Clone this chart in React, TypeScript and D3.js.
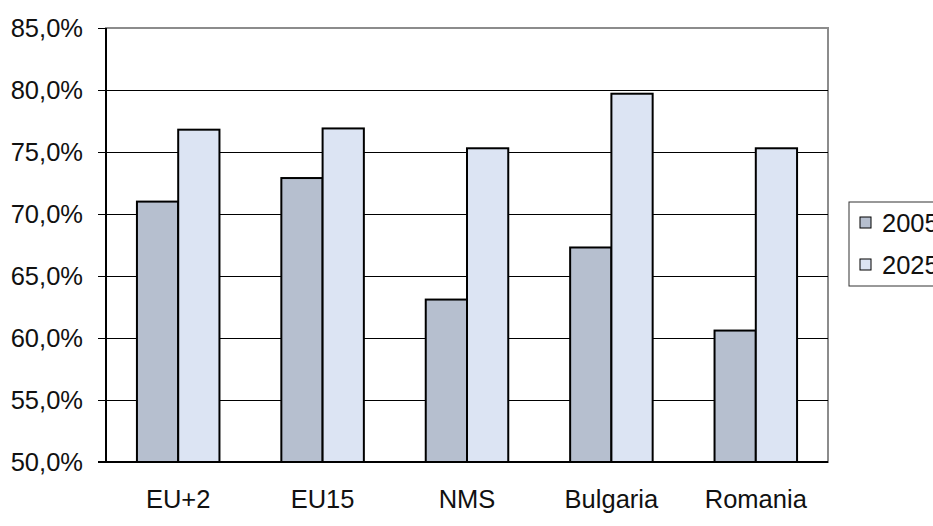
import { useEffect, useRef } from 'react';
import * as d3 from 'd3';

const categories = ['EU+2', 'EU15', 'NMS', 'Bulgaria', 'Romania'];
const seriesNames = ['2005', '2025'];
const values2005 = [71.0, 72.9, 63.1, 67.3, 60.6];
const values2025 = [76.8, 76.9, 75.3, 79.7, 75.3];
const yTicks = [50, 55, 60, 65, 70, 75, 80, 85];

const colors = ['#b6bfcf', '#dce4f3'];

export default function App() {
  const svgRef = useRef<SVGSVGElement>(null);

  useEffect(() => {
    if (!svgRef.current) return;
    const W = 933;
    const H = 526;
    const margin = { top: 28, right: 105, bottom: 64, left: 106 };
    const width = W - margin.left - margin.right;
    const height = H - margin.top - margin.bottom;
    const font = 'Liberation Sans, Arial, sans-serif';
    const fs = 25.5;

    const root = d3.select(svgRef.current);
    root.selectAll('*').remove();
    root.attr('width', W).attr('height', H);

    const svg = root.append('g').attr('transform', `translate(${margin.left},${margin.top})`);

    const x0 = d3.scaleBand().domain(categories).range([0, width]).paddingInner(0).paddingOuter(0);
    // Excel style gap width 150% => bars take 2/3.5 of the band
    const barW = x0.bandwidth() / 3.5;
    const x1 = d3.scaleBand().domain(seriesNames).range([0, barW * 2]);
    const y = d3.scaleLinear().domain([50, 85]).range([height, 0]);

    // plot border (top/right gray)
    svg.append('rect')
      .attr('x', 0).attr('y', 0).attr('width', width).attr('height', height)
      .attr('fill', 'white').attr('stroke', '#8c8c8c').attr('stroke-width', 2);

    // gridlines
    svg.selectAll('.grid')
      .data(yTicks.filter(t => t > 50 && t < 85))
      .enter().append('line')
      .attr('x1', 0).attr('x2', width)
      .attr('y1', d => y(d) + 0.5).attr('y2', d => y(d) + 0.5)
      .attr('stroke', '#000').attr('stroke-width', 1)
      .attr('shape-rendering', 'crispEdges');

    // ticks and labels
    svg.selectAll('.tick')
      .data(yTicks)
      .enter().append('line')
      .attr('x1', -8).attr('x2', 0)
      .attr('y1', d => y(d) + 0.5).attr('y2', d => y(d) + 0.5)
      .attr('stroke', '#000').attr('stroke-width', 1)
      .attr('shape-rendering', 'crispEdges');

    svg.selectAll('.ylab')
      .data(yTicks)
      .enter().append('text')
      .attr('x', -23).attr('y', d => y(d))
      .attr('dy', '0.36em')
      .attr('text-anchor', 'end')
      .attr('font-family', font).attr('font-size', fs)
      .attr('fill', '#111')
      .text(d => d.toFixed(1).replace('.', ',') + '%');

    // bars
    const data = categories.map((c, i) => ({ c, vals: [values2005[i], values2025[i]] }));
    const groups = svg.selectAll('.grp')
      .data(data)
      .enter().append('g')
      .attr('transform', d => `translate(${(x0(d.c) || 0) + barW * 0.75},0)`);

    groups.selectAll('rect')
      .data(d => d.vals.map((v, j) => ({ v, s: seriesNames[j], j })))
      .enter().append('rect')
      .attr('x', d => x1(d.s) || 0)
      .attr('y', d => y(d.v))
      .attr('width', x1.bandwidth())
      .attr('height', d => height - y(d.v))
      .attr('fill', d => colors[d.j])
      .attr('stroke', '#000').attr('stroke-width', 2);

    // axes lines
    svg.append('line').attr('x1', 0).attr('x2', 0).attr('y1', 0).attr('y2', height)
      .attr('stroke', '#000').attr('stroke-width', 2);
    svg.append('line').attr('x1', -8).attr('x2', width).attr('y1', height).attr('y2', height)
      .attr('stroke', '#000').attr('stroke-width', 2);

    // x labels
    svg.selectAll('.xlab')
      .data(categories)
      .enter().append('text')
      .attr('x', d => (x0(d) || 0) + x0.bandwidth() / 2)
      .attr('y', height + 46)
      .attr('text-anchor', 'middle')
      .attr('font-family', font).attr('font-size', fs)
      .attr('fill', '#111')
      .text(d => d);

    // clipped fragment at the bottom edge
    svg.append('text')
      .attr('x', 34).attr('y', height + 83)
      .attr('font-family', font).attr('font-size', fs)
      .attr('fill', '#111')
      .text('E');

    // legend
    const lg = root.append('g').attr('transform', 'translate(849,202)');
    lg.append('rect').attr('x', 0).attr('y', 0).attr('width', 120).attr('height', 84)
      .attr('fill', 'white').attr('stroke', '#333').attr('stroke-width', 1);
    seriesNames.forEach((s, i) => {
      lg.append('rect')
        .attr('x', 11).attr('y', 15 + i * 42).attr('width', 11).attr('height', 11)
        .attr('fill', colors[i]).attr('stroke', '#000').attr('stroke-width', 1);
      lg.append('text')
        .attr('x', 33).attr('y', 21 + i * 42).attr('dy', '0.36em')
        .attr('font-family', font).attr('font-size', fs)
        .attr('fill', '#111')
        .text(s);
    });
  }, []);

  return (
    <svg ref={svgRef} style={{ position: 'absolute', top: 0, left: 0, background: 'white' }} />
  );
}
